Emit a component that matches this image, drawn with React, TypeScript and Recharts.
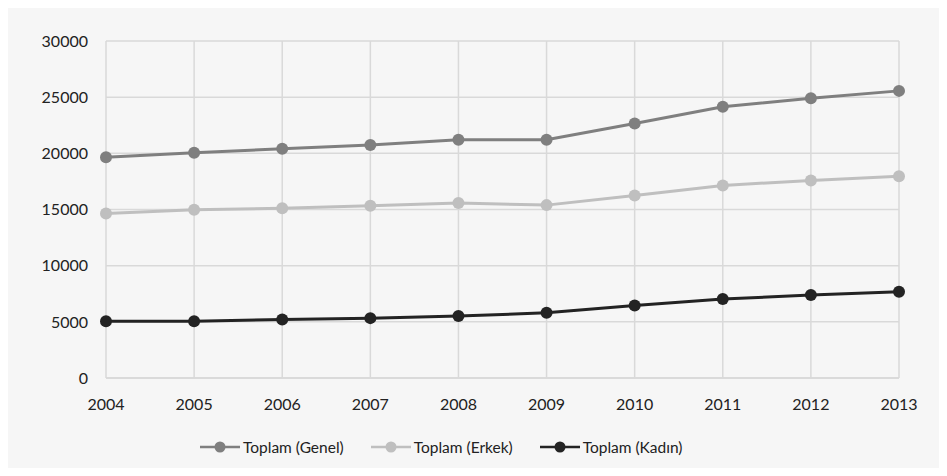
import React from 'react';
import { LineChart, Line, XAxis, YAxis, CartesianGrid, Legend } from 'recharts';

const years = ['2004', '2005', '2006', '2007', '2008', '2009', '2010', '2011', '2012', '2013'];
const genel = [19650, 20050, 20400, 20740, 21200, 21210, 22650, 24150, 24900, 25560];
const erkek = [14650, 14970, 15120, 15330, 15570, 15390, 16250, 17140, 17590, 17950];
const kadin = [5050, 5060, 5210, 5330, 5510, 5800, 6460, 7030, 7380, 7680];
const yTicks = [0, 5000, 10000, 15000, 20000, 25000, 30000];

const seriesInfo = [
  { key: 'genel', name: 'Toplam (Genel)', color: '#7f7f7f' },
  { key: 'erkek', name: 'Toplam (Erkek)', color: '#bfbfbf' },
  { key: 'kadin', name: 'Toplam (Kadın)', color: '#232323' },
];

const chartData = years.map((year, i) => ({
  year,
  genel: genel[i],
  erkek: erkek[i],
  kadin: kadin[i],
}));

const FONT = 'Lato, "Open Sans", sans-serif';

const CustomLegend = () => (
  <div style={{ display: 'flex', justifyContent: 'flex-start', paddingLeft: 200, fontFamily: FONT, fontSize: 15.5, color: '#222' }}>
    {seriesInfo.map((s) => (
      <div key={s.key} style={{ display: 'flex', alignItems: 'center', marginRight: 27 }}>
        <svg width={40} height={14} style={{ marginRight: 3 }}>
          <line x1={0} y1={7} x2={40} y2={7} stroke={s.color} strokeWidth={2.5} />
          <circle cx={20} cy={7} r={5.5} fill={s.color} />
        </svg>
        <span>{s.name}</span>
      </div>
    ))}
  </div>
);

const App: React.FC = () => {
  return (
    <div style={{ position: 'relative', width: 947, height: 476, margin: -8, background: '#fff', overflow: 'hidden' }}>
      <div
        style={{
          position: 'absolute',
          left: 3,
          top: 3,
          width: 960,
          height: 480,
          background: '#f6f6f6',
          border: '2px solid #d9d9d9',
          boxSizing: 'border-box',
        }}
      />
      <div style={{ position: 'absolute', left: 0, top: 0 }}>
        <LineChart width={947} height={476} data={chartData} margin={{ top: 41, right: 48, left: 46, bottom: 40 }}>
          <CartesianGrid stroke="#d9d9d9" strokeWidth={1.5} />
          <XAxis
            dataKey="year"
            axisLine={{ stroke: '#d9d9d9', strokeWidth: 1.5 }}
            tickLine={false}
            tickSize={0}
            tickMargin={21}
            height={40}
            tick={{ fill: '#222', fontSize: 16, fontFamily: FONT }}
          />
          <YAxis
            domain={[0, 30000]}
            ticks={yTicks}
            axisLine={false}
            tickLine={false}
            tickSize={0}
            tickMargin={18}
            width={60}
            tick={{ fill: '#222', fontSize: 16, fontFamily: FONT }}
          />
          <Legend
            verticalAlign="bottom"
            content={<CustomLegend />}
            wrapperStyle={{ left: 0, width: 947, bottom: 20 }}
          />
          {seriesInfo.map((s) => (
            <Line
              key={s.key}
              type="linear"
              dataKey={s.key}
              name={s.name}
              stroke={s.color}
              strokeWidth={3}
              dot={{ r: 6, fill: s.color, stroke: s.color, strokeWidth: 0 }}
              isAnimationActive={false}
            />
          ))}
        </LineChart>
      </div>
    </div>
  );
};

export default App;
